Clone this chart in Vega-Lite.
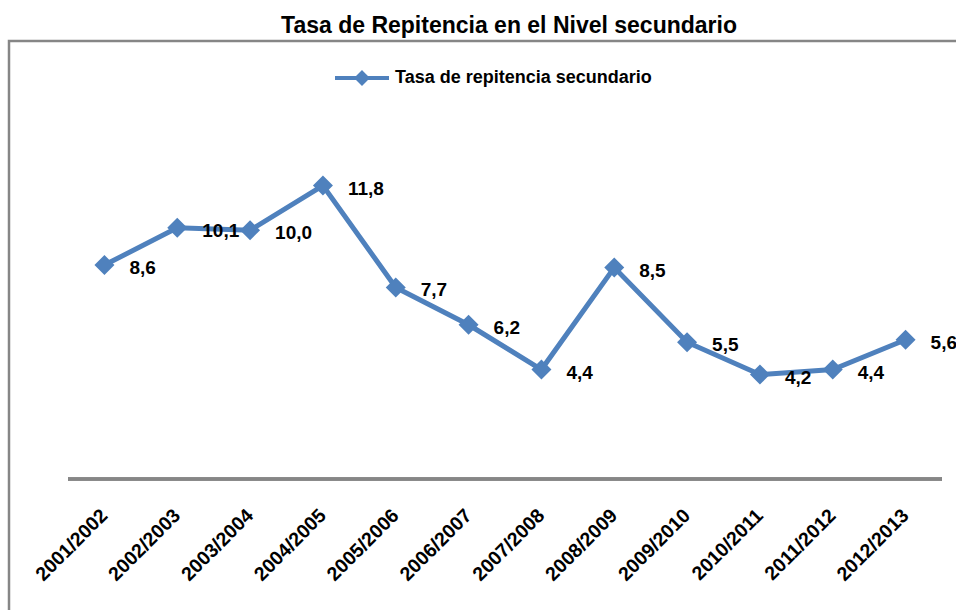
{
  "$schema": "https://vega.github.io/schema/vega-lite/v6.json",
  "autosize": "none",
  "padding": {"left": 9, "top": 41, "right": 0, "bottom": 0},
  "width": 960,
  "height": 580,
  "background": "white",
  "config": {
    "view": {"stroke": "#868686", "strokeWidth": 2.5},
    "font": "Liberation Sans"
  },
  "title": {
    "text": "Tasa de Repitencia en el Nivel secundario",
    "font": "Liberation Sans",
    "fontSize": 23,
    "fontWeight": "bold",
    "color": "#000000",
    "anchor": "middle",
    "frame": "group",
    "dx": 20,
    "dy": 22,
    "offset": 7,
    "baseline": "alphabetic"
  },
  "data": {
    "values": [
      {"periodo": "2001/2002", "valor": 8.6, "etiqueta": "8,6", "serie": "Tasa de repitencia secundario"},
      {"periodo": "2002/2003", "valor": 10.1, "etiqueta": "10,1", "serie": "Tasa de repitencia secundario"},
      {"periodo": "2003/2004", "valor": 10.0, "etiqueta": "10,0", "serie": "Tasa de repitencia secundario"},
      {"periodo": "2004/2005", "valor": 11.8, "etiqueta": "11,8", "serie": "Tasa de repitencia secundario"},
      {"periodo": "2005/2006", "valor": 7.7, "etiqueta": "7,7", "serie": "Tasa de repitencia secundario"},
      {"periodo": "2006/2007", "valor": 6.2, "etiqueta": "6,2", "serie": "Tasa de repitencia secundario"},
      {"periodo": "2007/2008", "valor": 4.4, "etiqueta": "4,4", "serie": "Tasa de repitencia secundario"},
      {"periodo": "2008/2009", "valor": 8.5, "etiqueta": "8,5", "serie": "Tasa de repitencia secundario"},
      {"periodo": "2009/2010", "valor": 5.5, "etiqueta": "5,5", "serie": "Tasa de repitencia secundario"},
      {"periodo": "2010/2011", "valor": 4.2, "etiqueta": "4,2", "serie": "Tasa de repitencia secundario"},
      {"periodo": "2011/2012", "valor": 4.4, "etiqueta": "4,4", "serie": "Tasa de repitencia secundario"},
      {"periodo": "2012/2013", "valor": 5.6, "etiqueta": "5,6", "serie": "Tasa de repitencia secundario"}
    ]
  },
  "encoding": {
    "x": {
      "field": "periodo",
      "type": "nominal",
      "sort": null,
      "scale": {
        "type": "band",
        "domain": ["2001/2002", "2002/2003", "2003/2004", "2004/2005", "2005/2006", "2006/2007", "2007/2008", "2008/2009", "2009/2010", "2010/2011", "2011/2012", "2012/2013"],
        "paddingInner": 0,
        "paddingOuter": 0.5904,
        "align": 0.686
      },
      "axis": {
        "title": null,
        "domain": false,
        "ticks": false,
        "grid": false,
        "offset": -142,
        "labelAngle": -45,
        "labelAlign": "right",
        "labelBaseline": "middle",
        "labelPadding": 33,
        "labelFont": "Liberation Sans",
        "labelFontSize": 19.5,
        "labelFontWeight": "bold",
        "labelColor": "#000000"
      }
    }
  },
  "layer": [
    {
      "mark": {"type": "rule", "color": "#868686", "strokeWidth": 2.5, "xOffset": -36.4, "x2Offset": 36.4},
      "encoding": {
        "x": {"datum": "2001/2002"},
        "x2": {"datum": "2012/2013"},
        "y": {"datum": 0, "scale": {"domain": [-5.71, 17.61], "nice": false, "zero": false}, "axis": null}
      }
    },
    {
      "mark": {"type": "line", "strokeWidth": 5},
      "encoding": {
        "y": {"field": "valor", "type": "quantitative"},
        "color": {
          "field": "serie",
          "type": "nominal",
          "scale": {"range": ["#4F81BD"]},
          "legend": {
            "orient": "none",
            "legendX": 324,
            "legendY": 8,
            "title": null,
            "symbolType": "M-1,0H1M0,-0.19L0.19,0L0,0.19L-0.19,0Z",
            "symbolSize": 2916,
            "symbolStrokeWidth": 4,
            "symbolFillColor": "#4F81BD",
            "symbolStrokeColor": "#4F81BD",
            "labelFont": "Liberation Sans",
            "labelFontSize": 18,
            "labelFontWeight": "bold",
            "labelColor": "#000000",
            "labelOffset": 4,
            "labelLimit": 500
          }
        }
      }
    },
    {
      "mark": {"type": "point", "shape": "diamond", "filled": true, "size": 400, "opacity": 1},
      "encoding": {
        "y": {"field": "valor", "type": "quantitative"},
        "color": {"field": "serie", "type": "nominal"}
      }
    },
    {
      "mark": {"type": "text", "align": "left", "baseline": "middle", "dx": 25, "dy": 3, "font": "Liberation Sans", "fontSize": 19, "fontWeight": "bold", "color": "#000000"},
      "encoding": {
        "y": {"field": "valor", "type": "quantitative"},
        "text": {"field": "etiqueta"}
      }
    }
  ]
}
